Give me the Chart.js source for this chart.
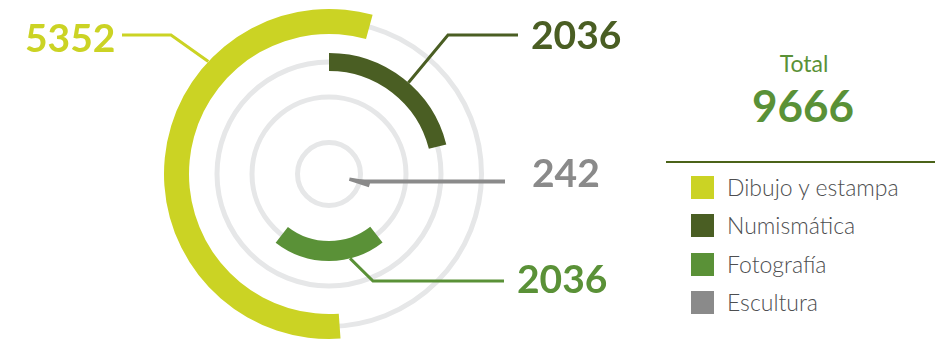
<!DOCTYPE html>
<html>
<head>
<meta charset="utf-8">
<script src="https://cdn.jsdelivr.net/npm/chart.js@4.4.0/dist/chart.umd.min.js"></script>
<style>
  body { margin: 0; background: #fff; font-family: Lato, "Open Sans", sans-serif; }
  #wrap { position: relative; width: 935px; height: 340px; overflow: hidden; }
  #ring { position: absolute; left: 0; top: 0; }
  #totalLabel { position: absolute; left: 704px; width: 200px; top: 52px; text-align: center;
    font-size: 23px; line-height: 23px; color: #5a9137; }
  #totalValue { position: absolute; left: 703px; width: 200px; top: 83px; text-align: center;
    font-size: 44px; line-height: 44px; font-weight: 700; color: #5a9137; }
  #rule { position: absolute; left: 666px; top: 161px; width: 269px; height: 2px; background: #4b6319; }
  .item { position: absolute; left: 691px; height: 24px; }
  .item .box { position: absolute; left: 0; top: 0; width: 23px; height: 23px; }
  .item .txt { position: absolute; left: 36px; top: 0; white-space: nowrap;
    font-size: 23px; line-height: 23px; font-weight: 300; color: #4d4e50; }
</style>
</head>
<body>
<div id="wrap">
  <canvas id="ring" width="660" height="340"></canvas>
  <div id="totalLabel">Total</div>
  <div id="totalValue"></div>
  <div id="rule"></div>
  <div id="legend"></div>
</div>
<script>
const categories = ['Dibujo y estampa', 'Numismática', 'Fotografía', 'Escultura'];
const values = [5352, 2036, 2036, 242];
const colors = ['#cbd324', '#4a5e23', '#5a9137', '#8a8a8a'];

const total = values.reduce((a, b) => a + b, 0);

// ring thickness (px) for each category, and the empty gap after it
const ringWeights = [25, 18, 20, 21];
const gapWeights = [19, 16, 25];
// where each arc starts, degrees clockwise from 12 o'clock
const startAngles = [176, 0, 142, 99.5];

// callout text position (left, baseline), leader line start and elbow, anchor angle on the arc
const callouts = [
  { text: [25, 52], from: [122, 35], elbow: [171, 35], angle: 313, at: 'outer', width: 3 },
  { text: [531, 49], from: [518, 35], elbow: [448, 35], angle: 41, at: 'outer', width: 3 },
  { text: [517, 293], from: [504, 281], elbow: [373, 281], angle: 166, at: 'outer', width: 3 },
  { text: [532, 187], from: [505, null], elbow: null, angle: 104, at: 'mid', width: 4 }
];

document.getElementById('totalValue').textContent = total;
const legend = document.getElementById('legend');
categories.forEach((name, i) => {
  const row = document.createElement('div');
  row.className = 'item';
  row.style.top = (176 + i * 38.3) + 'px';
  row.innerHTML = '<div class="box" style="background:' + colors[i] + '"></div><div class="txt">' + name + '</div>';
  legend.appendChild(row);
});

// one ring per category, with transparent spacer rings between them
const datasets = [];
const valueIndex = [];
values.forEach((v, i) => {
  valueIndex.push(datasets.length);
  datasets.push({
    label: categories[i],
    data: [v, total - v],
    backgroundColor: [colors[i], 'rgba(0,0,0,0)'],
    borderWidth: 0,
    weight: ringWeights[i],
    rotation: startAngles[i]
  });
  if (i < gapWeights.length) {
    datasets.push({ data: [], weight: gapWeights[i], borderWidth: 0 });
  }
});

function pointOn(arc, deg, r) {
  const a = (deg - 90) * Math.PI / 180;
  return [arc.x + r * Math.cos(a), arc.y + r * Math.sin(a)];
}

const ringDecor = {
  id: 'ringDecor',
  beforeDatasetsDraw(chart) {
    const ctx = chart.ctx;
    ctx.save();
    // grey tracks behind every ring
    valueIndex.forEach(di => {
      const arc = chart.getDatasetMeta(di).data[0];
      ctx.beginPath();
      ctx.arc(arc.x, arc.y, (arc.innerRadius + arc.outerRadius) / 2, 0, Math.PI * 2);
      ctx.strokeStyle = '#e6e7e8';
      ctx.lineWidth = 5;
      ctx.stroke();
    });
    // leader lines
    valueIndex.forEach((di, i) => {
      const arc = chart.getDatasetMeta(di).data[0];
      const c = callouts[i];
      const r = c.at === 'outer' ? arc.outerRadius : (arc.innerRadius + arc.outerRadius) / 2;
      const p = pointOn(arc, c.angle, r);
      ctx.beginPath();
      ctx.moveTo(c.from[0], c.from[1] === null ? p[1] : c.from[1]);
      if (c.elbow) ctx.lineTo(c.elbow[0], c.elbow[1]);
      ctx.lineTo(p[0], p[1]);
      ctx.strokeStyle = colors[i];
      ctx.lineWidth = c.width;
      ctx.stroke();
    });
    ctx.restore();
  },
  afterDatasetsDraw(chart) {
    const ctx = chart.ctx;
    ctx.save();
    ctx.font = 'bold 39px Lato, sans-serif';
    ctx.textBaseline = 'alphabetic';
    ctx.textAlign = 'left';
    values.forEach((v, i) => {
      ctx.fillStyle = colors[i];
      ctx.fillText(String(v), callouts[i].text[0], callouts[i].text[1]);
    });
    ctx.restore();
  }
};

new Chart(document.getElementById('ring'), {
  type: 'doughnut',
  data: { labels: ['valor', 'resto'], datasets: datasets },
  options: {
    responsive: false,
    animation: false,
    events: [],
    radius: 165,
    cutout: (21 / 165 * 100) + '%',
    layout: { padding: { left: 0, right: 2, top: 8, bottom: 0 } },
    plugins: { legend: { display: false }, tooltip: { enabled: false } }
  },
  plugins: [ringDecor]
});
</script>
</body>
</html>
